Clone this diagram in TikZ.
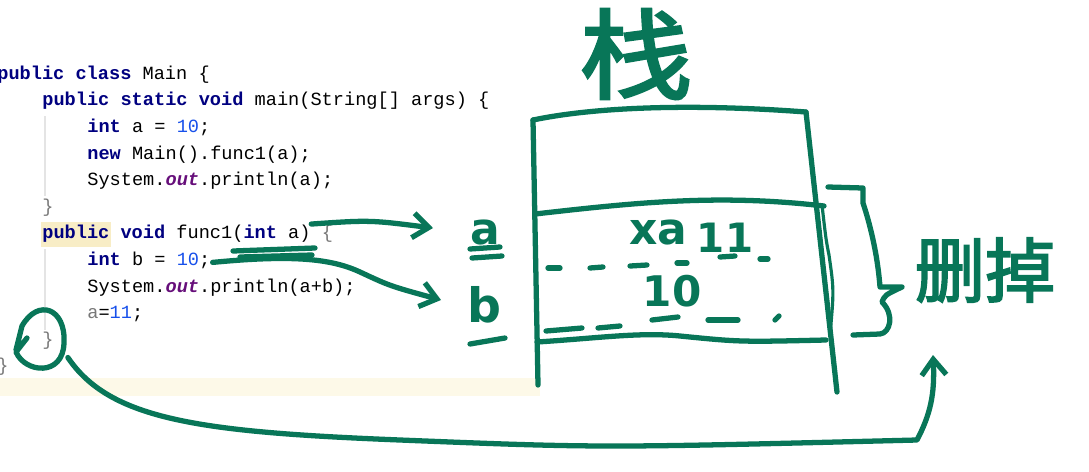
\documentclass[tikz,border=0pt]{standalone}
\usepackage{fontspec}
\usepackage{xcolor}
\usetikzlibrary{arrows.meta,positioning,calc}
\newfontfamily\codefont{Liberation Mono}
\newfontfamily\handfont{DejaVu Sans}
\newfontfamily\cjkhand{Noto Sans CJK SC}[FakeBold=2.5]
\definecolor{kwnavy}{RGB}{0,0,128}
\definecolor{numblue}{RGB}{23,80,235}
\definecolor{fieldpurple}{RGB}{102,14,122}
\definecolor{bracegray}{RGB}{120,120,120}
\definecolor{pen}{RGB}{8,118,88}
\definecolor{hlyellow}{RGB}{248,237,198}
\definecolor{linehl}{RGB}{253,249,232}
\definecolor{guide}{RGB}{228,228,228}
\newcommand{\kw}[1]{{\bfseries\color{kwnavy}#1}}
\newcommand{\nm}[1]{{\color{numblue}#1}}
\newcommand{\fld}[1]{{\bfseries\itshape\color{fieldpurple}#1}}
\newcommand{\gr}[1]{{\color{bracegray}#1}}
\tikzset{
  codeline/.style={anchor=mid west, inner sep=0pt, font=\codefont\fontsize{10.6}{12}\selectfont},
  ink/.style={draw=pen, line width=3pt, line cap=round, line join=round},
  thinink/.style={draw=pen, line width=1.8pt, line cap=round, line join=round},
  penarrow/.style={ink, -{Straight Barb[length=9pt,width=14pt,line width=3pt]}},
  hand/.style={text=pen, inner sep=0pt, font=\handfont\bfseries\fontsize{25}{25}\selectfont},
  cjk/.style={text=pen, inner sep=0pt}
}
\begin{document}
\begin{tikzpicture}[x=0.02cm, y=-0.02cm]
\useasboundingbox (0,0) rectangle (1089,471);
\fill[white] (0,0) rectangle (1089,471);
\fill[linehl] (0,378) rectangle (540,396);
\fill[hlyellow] (41,222) rectangle (111,247);
\draw[guide, line width=0.6pt] (45,116) -- (45,196) (45,249) -- (45,330);

\node[codeline] (c0) at (-3,75.5) {\kw{public class} Main \{};
\node[codeline] (c1) at (42,102.1) {\kw{public static void} main(String[] args) \{};
\node[codeline] (c2) at (87,128.7) {\kw{int} a = \nm{10};};
\node[codeline] (c3) at (87,155.3) {\kw{new} Main().func1(a);};
\node[codeline] (c4) at (87,181.9) {System.\fld{out}.println(a);};
\node[codeline] (c5) at (42,208.5) {\gr{\}}};
\node[codeline] (c6) at (42,235.1) {\kw{public void} func1(\kw{int} a) \gr{\{}};
\node[codeline] (c7) at (87,261.7) {\kw{int} b = \nm{10};};
\node[codeline] (c8) at (87,288.3) {System.\fld{out}.println(a+b);};
\node[codeline] (c9) at (87,314.9) {\gr{a}=\nm{11};};
\node[codeline] (c10) at (42,341.5) {\gr{\}}};
\node[codeline] (c11) at (-3,368.1) {\gr{\}}};

\node[cjk, font=\cjkhand\fontsize{56}{56}\selectfont, xscale=1.15] (zhan) at (636,54) {栈};
\node[cjk, font=\cjkhand\fontsize{40}{40}\selectfont] (del) at (985,270) {删掉};
\node[hand] (la) at (485,233) {a};
\node[hand, font=\handfont\bfseries\fontsize{27}{27}\selectfont] (lb) at (484,305) {b};
\node[hand] (old) at (658,233) {xa};
\node[hand, font=\handfont\bfseries\fontsize{23}{23}\selectfont] (new) at (725,238) {11};
\node[hand, font=\handfont\bfseries\fontsize{24}{24}\selectfont] (ten) at (672,291) {10};

\coordinate (tl) at (533,120);
\coordinate (tr) at (806,112);
\coordinate (bl) at (538,385);
\coordinate (br) at (837,392);
\draw[ink] (tl) .. controls (600,106) and (700,104) .. (tr);
\draw[ink] (tl) -- (bl);
\draw[ink] (tr) -- (br);
\draw[ink] (535,214) .. controls (640,202) and (720,194) .. (824,206);
\draw[ink] (537,342) .. controls (600,338) and (640,332) .. (680,336) .. controls (740,342) .. (826,340);
\draw[thinink] (822,205) .. controls (826,240) .. (829,255) .. controls (834,290) .. (830,335);
\foreach \xa/\xb/\ya/\yb in {548/560/268/268, 590/603/268/267, 630/647/266/265,
  677/687/263/263, 720/735/257/256, 760/768/259/259}
  \draw[ink] (\xa,\ya) -- (\xb,\yb);
\foreach \xa/\xb/\ya/\yb in {546/582/331/328, 598/620/328/326, 652/678/320/317,
  708/738/320/320, 775/779/320/316}
  \draw[ink] (\xa,\ya) -- (\xb,\yb);

\draw[ink] (470,249) -- (500,247) (472,258) -- (502,256);
\draw[ink] (470,344) -- (505,338);
\draw[ink] (233,251) -- (315,248) (240,257) -- (312,255);

\coordinate (ta) at (433,228);
\coordinate (tb) at (441,300);
\draw[penarrow] (c6.north east) ++(-22,-1) .. controls (370,220) .. (ta);
\draw[penarrow] (c7.east) ++(2,2) .. controls (290,255) and (330,258) .. (360,272) .. controls (390,286) .. (tb);

\draw[ink] (828,187) -- (863,188) -- (863,203) .. controls (872,230) and (878,260) .. (880,287)
  -- (902,287) .. controls (885,295) .. (882,302) .. controls (895,315) and (890,333) .. (880,334) -- (853,335);

\coordinate (tdel) at (933,355);
\draw[ink] (27,338) -- (16,352) .. controls (25,373) and (63,377) .. (64,343)
  .. controls (66,308) and (38,298) .. (22,326) -- (16,350);
\draw[penarrow] (c10.south east) ++(14,8) .. controls (110,420) and (200,432) .. (400,440)
  .. controls (600,448) .. (917,440) .. controls (930,415) and (935,395) .. (tdel);
\end{tikzpicture}
\end{document}
